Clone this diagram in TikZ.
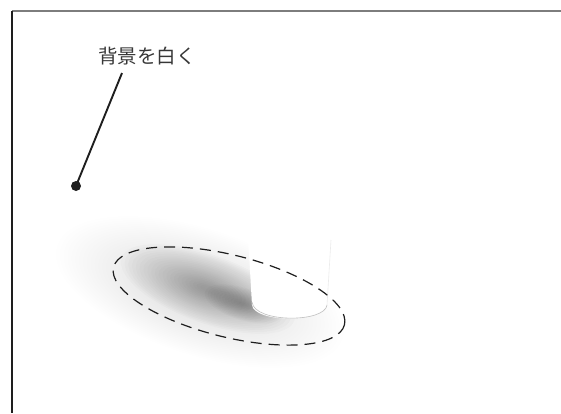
\documentclass[tikz,border=0pt]{standalone}
\usepackage{fontspec}
\newfontfamily\jpfont{Noto Sans CJK JP}
\definecolor{framegray}{RGB}{125,125,125}
\definecolor{inkgray}{RGB}{30,30,30}
\definecolor{textgray}{RGB}{55,55,55}
\tikzset{
  leader/.style={draw=inkgray, line width=1.9pt},
  pindot/.style={circle, fill=inkgray, inner sep=0pt, minimum size=10pt},
  rim/.style={draw=inkgray, line width=1.2pt, dash pattern=on 11pt off 7pt},
  haze/.style={fill=black, opacity=#1},
}

\begin{document}
\begin{tikzpicture}[x=1pt, y=-1pt]
  \useasboundingbox (0,0) rectangle (561,413);
  % soft shadow under the cup
  \foreach \r in {150,146,...,10}
    \fill[haze=0.004] (200,292) ellipse [x radius=\r, y radius=0.42*\r, rotate=-18];
  \foreach \r in {92,88,...,6}
    \fill[haze=0.014] (208,289) ellipse [x radius=\r, y radius=0.37*\r, rotate=-20];
  \foreach \r in {40,37,...,4}
    \fill[haze=0.025] (243,304) ellipse [x radius=\r, y radius=0.4*\r, rotate=-18];
  % cup
  \fill[white] (246,200) -- (252,305) .. controls (254,323) and (325,323) .. (327,305) -- (333,200) -- cycle;
  \draw[black!25, line width=0.6pt] (252,302) .. controls (254,323) and (325,323) .. (327,305);
  \draw[black!8, line width=0.6pt] (327,305) -- (331,240);
  % dashed ring
  \draw[rim] (229,296) ellipse [x radius=119, y radius=41, rotate=-14];
  % frame
  \draw[framegray, line width=1.5pt] (12,11) -- (561,11);
  \draw[inkgray, line width=1.5pt] (12,11) -- (12,413);
  % label
  \node[font=\jpfont\fontsize{19.5}{22}\selectfont, text=textgray, inner sep=0pt] (haikei) at (147,56) {背景を白く};
  \node[pindot] (pin) at (76,186) {};
  \coordinate (lead) at (122,73);
  \draw[leader] (lead) -- (pin.center);
\end{tikzpicture}
\end{document}
